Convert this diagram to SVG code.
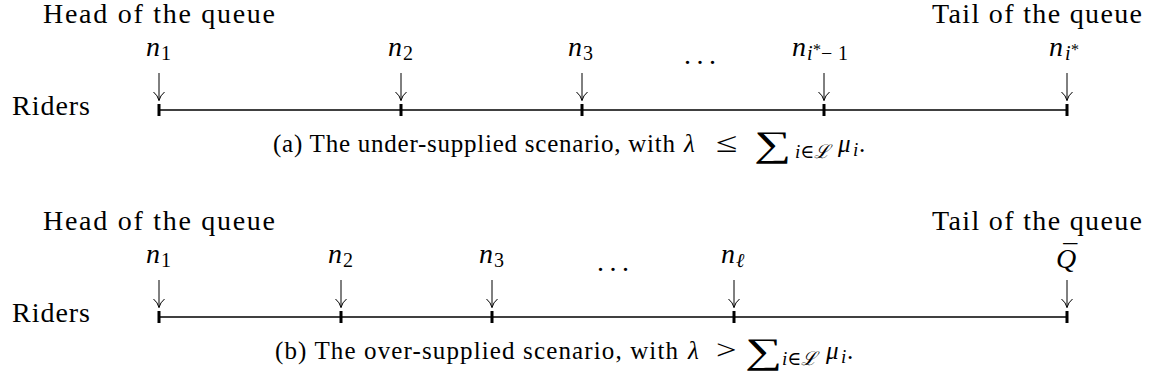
<svg xmlns="http://www.w3.org/2000/svg" width="1153" height="385" viewBox="0 0 1153 385">
<defs>
<style>
text{font-family:'Liberation Serif','Times New Roman','DejaVu Serif',serif;fill:#000}
.t{font-size:28px}
.cap{font-size:25px}
.m{font-style:italic;font-size:28px}
.s{font-size:20px}
.si{font-style:italic;font-size:20px}
.ss{font-size:16px}
.cm{font-style:italic;font-size:25px}
.cs{font-size:25px}
.rel{font-size:28px}
.sum{font-size:36px}
.csi{font-style:italic;font-size:19px}
.axis{stroke:#000;stroke-width:1.6;fill:none}
.tick{fill:#000}
.arr{stroke:#000;stroke-width:1;fill:none}
</style>
</defs>
<g id="connectors">
<line class="axis" x1="159" y1="110" x2="1067" y2="110"/>
<rect class="tick" x="157.5" y="104" width="3" height="12"/>
<rect class="tick" x="399.5" y="104" width="3" height="12"/>
<rect class="tick" x="580.5" y="104" width="3" height="12"/>
<rect class="tick" x="822.5" y="104" width="3" height="12"/>
<rect class="tick" x="1065.5" y="104" width="3" height="12"/>
<path class="arr" d="M159 73V100.5M153.5 92Q157.8 95.5 159 100.5Q160.2 95.5 164.5 92"/>
<path class="arr" d="M401 73V100.5M395.5 92Q399.8 95.5 401 100.5Q402.2 95.5 406.5 92"/>
<path class="arr" d="M582 73V100.5M576.5 92Q580.8 95.5 582 100.5Q583.2 95.5 587.5 92"/>
<path class="arr" d="M824 73V100.5M818.5 92Q822.8 95.5 824 100.5Q825.2 95.5 829.5 92"/>
<path class="arr" d="M1067 73V100.5M1061.5 92Q1065.8 95.5 1067 100.5Q1068.2 95.5 1072.5 92"/>
<line class="axis" x1="159" y1="317" x2="1067" y2="317"/>
<rect class="tick" x="157.5" y="311" width="3" height="12"/>
<rect class="tick" x="339.5" y="311" width="3" height="12"/>
<rect class="tick" x="490.5" y="311" width="3" height="12"/>
<rect class="tick" x="732.5" y="311" width="3" height="12"/>
<rect class="tick" x="1065.5" y="311" width="3" height="12"/>
<path class="arr" d="M159 280V307.5M153.5 299Q157.8 302.5 159 307.5Q160.2 302.5 164.5 299"/>
<path class="arr" d="M341 280V307.5M335.5 299Q339.8 302.5 341 307.5Q342.2 302.5 346.5 299"/>
<path class="arr" d="M492 280V307.5M486.5 299Q490.8 302.5 492 307.5Q493.2 302.5 497.5 299"/>
<path class="arr" d="M734 280V307.5M728.5 299Q732.8 302.5 734 307.5Q735.2 302.5 739.5 299"/>
<path class="arr" d="M1067 280V307.5M1061.5 299Q1065.8 302.5 1067 307.5Q1068.2 302.5 1072.5 299"/>
</g>
<g id="head-a"><text class="t" x="43" y="23" textLength="232" lengthAdjust="spacing">Head of the queue</text></g>
<g id="tail-a"><text class="t" x="932" y="23" textLength="210" lengthAdjust="spacing">Tail of the queue</text></g>
<g id="riders-a"><text class="t" x="12" y="115" textLength="78" lengthAdjust="spacing">Riders</text></g>
<g id="a-n1"><text class="m" x="146" y="56">n</text><text class="s" x="161" y="60">1</text></g>
<g id="a-n2"><text class="m" x="388" y="56">n</text><text class="s" x="403" y="60">2</text></g>
<g id="a-n3"><text class="m" x="568" y="56">n</text><text class="s" x="583" y="60">3</text></g>
<g id="a-dots"><text class="t" x="684" y="64" letter-spacing="5.5">...</text></g>
<g id="a-nistm1"><text class="m" x="792" y="56">n</text><text class="si" x="807" y="60">i</text><text class="ss" x="813" y="55">*</text><text class="s" x="821" y="60">−</text><text class="s" x="838" y="60">1</text></g>
<g id="a-nist"><text class="m" x="1049" y="56">n</text><text class="si" x="1065" y="60">i</text><text class="ss" x="1071" y="55">*</text></g>
<g id="caption-a"><text class="cap" x="273" y="152" textLength="402" lengthAdjust="spacing">(a) The under-supplied scenario, with</text><text class="cm" x="684" y="152">λ</text><text class="rel" transform="translate(716 152) scale(1.4 1)">≤</text><text class="sum" transform="translate(754 156) scale(1.45 1)">∑</text><text class="csi" x="795" y="158">i∈ℒ</text><text class="cm" x="838" y="152">μ</text><text class="csi" x="853" y="156">i</text><text class="cs" x="859" y="152">.</text></g>
<g id="head-b"><text class="t" x="43" y="230" textLength="232" lengthAdjust="spacing">Head of the queue</text></g>
<g id="tail-b"><text class="t" x="932" y="230" textLength="210" lengthAdjust="spacing">Tail of the queue</text></g>
<g id="riders-b"><text class="t" x="12" y="322" textLength="78" lengthAdjust="spacing">Riders</text></g>
<g id="b-n1"><text class="m" x="146" y="263">n</text><text class="s" x="161" y="267">1</text></g>
<g id="b-n2"><text class="m" x="328" y="263">n</text><text class="s" x="343" y="267">2</text></g>
<g id="b-n3"><text class="m" x="479" y="263">n</text><text class="s" x="494" y="267">3</text></g>
<g id="b-dots"><text class="t" x="597" y="271" letter-spacing="5.5">...</text></g>
<g id="b-nl"><text class="m" x="721" y="263">n</text><text class="si" x="736" y="267">ℓ</text></g>
<g id="b-qbar"><text class="m" x="1056" y="268">Q<tspan font-style="normal" dx="-13" dy="-4">¯</tspan></text></g>
<g id="caption-b"><text class="cap" x="275" y="359" textLength="403" lengthAdjust="spacing">(b) The over-supplied scenario, with</text><text class="cm" x="688" y="359">λ</text><text class="rel" transform="translate(716 359) scale(1.3 1)">&gt;</text><text class="sum" transform="translate(745 363) scale(1.45 1)">∑</text><text class="csi" x="782" y="365">i∈ℒ</text><text class="cm" x="826" y="359">μ</text><text class="csi" x="841" y="363">i</text><text class="cs" x="847" y="359">.</text></g>
</svg>
